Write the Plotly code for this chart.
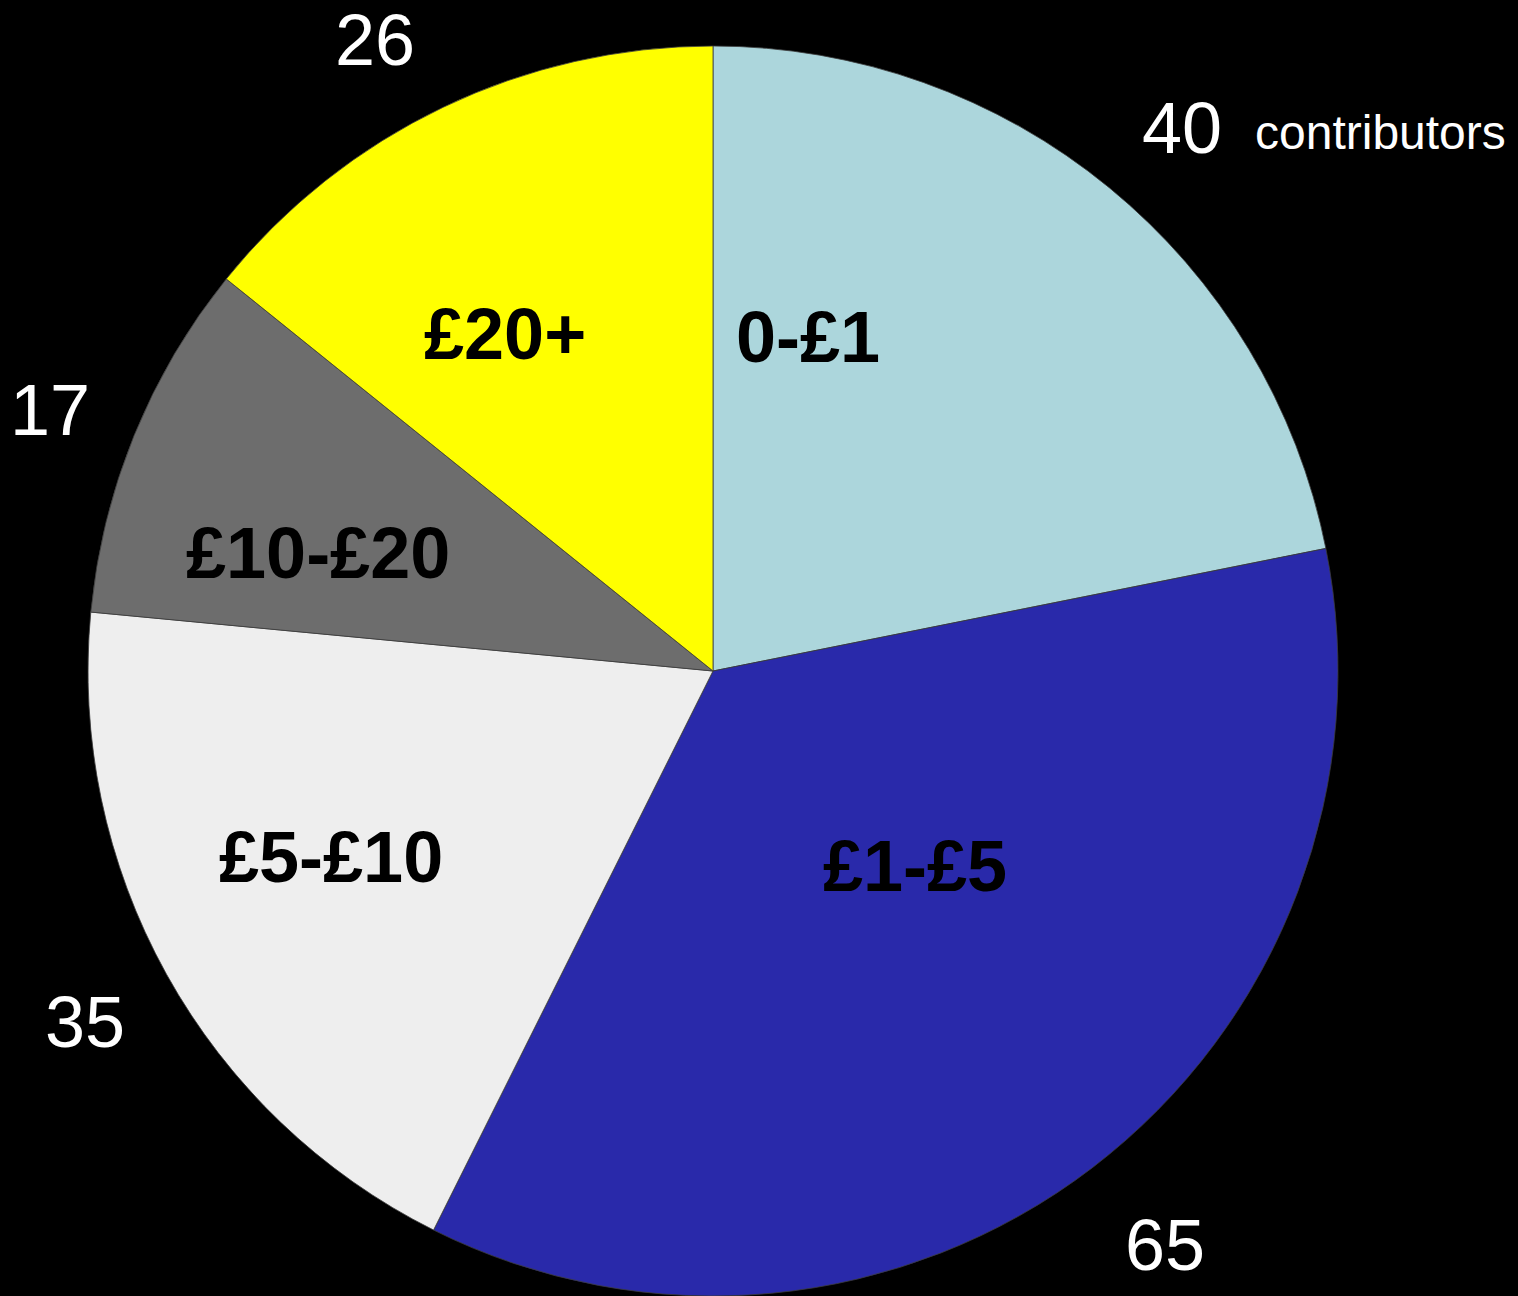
import math
import plotly.graph_objects as go

# ---- data ----
categories = ["0-£1", "£1-£5", "£5-£10", "£10-£20", "£20+"]
contributors = [40, 65, 35, 17, 26]
unit_label = "contributors"

# ---- style / layout ----
colors = ["#acd6dc", "#2929aa", "#eeeeee", "#6d6d6d", "#ffff00"]
W, H = 1518, 1296
CX, CY, R = 713, 671, 625
FONT = "Arial, 'Liberation Sans', sans-serif"
# label placement: (angle from 12 o'clock clockwise in degrees, fraction of radius)
inside_polar = [(15.8, 0.556), (134.0, 0.45), (244.0, 0.68), (286.6, 0.66), (328.4, 0.634)]
outside_polar = [(40.8, 1.148), (141.8, 1.169), (240.8, 1.151), (291.5, 1.140), (331.8, 1.145)]


def to_paper(angle_deg, rfrac):
    a = math.radians(angle_deg)
    px = CX + rfrac * R * math.sin(a)
    py = CY - rfrac * R * math.cos(a)
    return px / W, 1 - py / H


fig = go.Figure(
    go.Pie(
        labels=categories,
        values=contributors,
        sort=False,
        direction="clockwise",
        rotation=0,
        textinfo="none",
        hoverinfo="label+value",
        marker=dict(colors=colors, line=dict(color="rgba(60,60,60,0.8)", width=1)),
        domain=dict(x=[(CX - R) / W, (CX + R) / W], y=[1 - (CY + R) / H, 1 - (CY - R) / H]),
        showlegend=False,
    )
)

annotations = []
for i, (cat, v) in enumerate(zip(categories, contributors)):
    ang, rf = outside_polar[i]
    x, y = to_paper(ang, rf)
    annotations.append(dict(x=x, y=y, xref="paper", yref="paper", text=str(v), showarrow=False,
                            xanchor="center", yanchor="middle",
                            font=dict(family=FONT, size=72, color="white")))
    if i == 0:
        annotations.append(dict(x=x + 71 / W, y=y - 5 / H, xref="paper", yref="paper", text=unit_label,
                                showarrow=False, xanchor="left", yanchor="middle",
                                font=dict(family=FONT, size=48, color="white")))
    ang, rf = inside_polar[i]
    x, y = to_paper(ang, rf)
    annotations.append(dict(x=x, y=y, xref="paper", yref="paper", text="<b>%s</b>" % cat, showarrow=False,
                            xanchor="center", yanchor="middle",
                            font=dict(family=FONT, size=72, color="black")))

fig.update_layout(
    width=W, height=H,
    margin=dict(l=0, r=0, t=0, b=0),
    paper_bgcolor="black", plot_bgcolor="black",
    annotations=annotations,
)

fig.write_html(
    "out.html",
    config={"displayModeBar": False},
    post_script="document.body.style.margin='0';document.body.style.background='black';"
                "document.body.style.overflow='hidden';",
)
